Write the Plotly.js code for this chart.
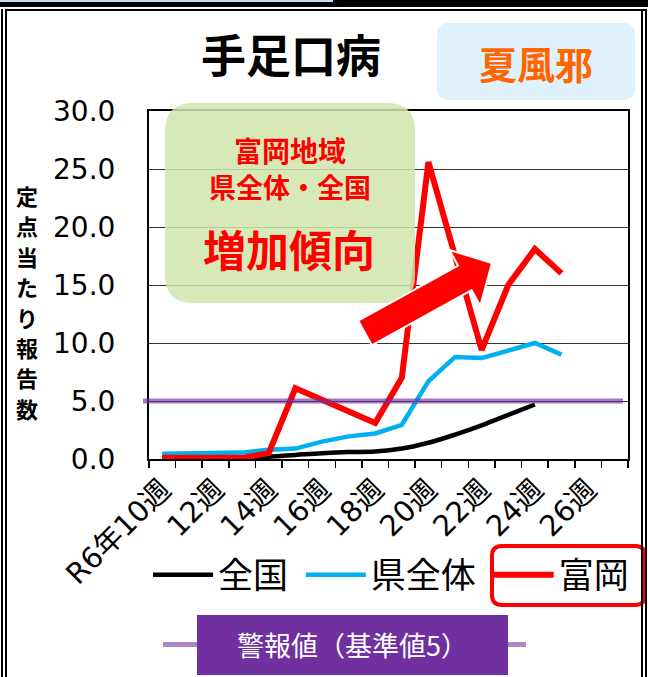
<!DOCTYPE html>
<html><head><meta charset="utf-8">
<script src="https://cdn.plot.ly/plotly-3.0.1.min.js"></script>
<style>html,body{margin:0;padding:0;background:#fff}#chart{width:648px;height:677px}</style>
</head><body><div id="chart"></div>
<script>
// ---- data ----
const categories = ['R6年10週','11週','12週','13週','14週','15週','16週','17週','18週','19週','20週','21週','22週','23週','24週','25週','26週','27週'];
const tickText   = ['R6年10週','','12週','','14週','','16週','','18週','','20週','','22週','','24週','','26週',''];
const nationalWeeks = ['R6年10週','11週','12週','13週','14週','15週','16週','17週','18週','19週','20週','21週','22週','23週','24週'];
const national   = [0.1,0.1,0.1,0.15,0.2,0.35,0.5,0.6,0.65,0.9,1.4,2.1,2.9,3.8,4.7];
const localWeeks = ['R6年10週','11週','12週','13週','14週','15週','16週','17週','18週','19週','20週','21週','22週','23週','24週','25週'];
const prefecture = [0.45,0.5,0.5,0.55,0.8,0.9,1.5,1.95,2.2,2.95,6.7,8.8,8.7,9.3,10.0,9.0];
const tomioka    = [0.1,0.1,0.1,0.1,0.5,6.1,5.1,4.1,3.1,7.0,25.6,17.5,9.4,15.0,18.1,16.0];
const seriesNames = ['全国','県全体','富岡'];
const alertLevel = 5;
const yTitle = '定点当たり報告数';

// ---- geometry helpers (pixel -> paper) ----
const W=648, H=677, L=149, R=20, T=111, B=218;
const PW=W-L-R, PH=H-T-B;
const px = x => (x-L)/PW;
const py = y => (T+PH-y)/PH;
const FONT = '"Noto Sans CJK JP", "Noto Sans", sans-serif';
const NUMFONT = '"DejaVu Sans", "Noto Sans CJK JP", sans-serif';
const NBSP = '\u00A0';

function rr(x0,y0,x1,y1,r){
  return `M${px(x0+r)},${py(y0)} L${px(x1-r)},${py(y0)} Q${px(x1)},${py(y0)} ${px(x1)},${py(y0+r)} `+
         `L${px(x1)},${py(y1-r)} Q${px(x1)},${py(y1)} ${px(x1-r)},${py(y1)} `+
         `L${px(x0+r)},${py(y1)} Q${px(x0)},${py(y1)} ${px(x0)},${py(y1-r)} `+
         `L${px(x0)},${py(y0+r)} Q${px(x0)},${py(y0)} ${px(x0+r)},${py(y0)} Z`;
}
function rect(x0,y0,x1,y1,fill,layer){
  return {type:'rect',xref:'paper',yref:'paper',x0:px(x0),x1:px(x1),y0:py(y0),y1:py(y1),
          fillcolor:fill,line:{width:0},layer:layer||'above'};
}
function arrowPath(tx,ty,hx,hy,sw,hw,hl){
  const dx=hx-tx, dy=hy-ty, len=Math.hypot(dx,dy);
  const ux=dx/len, uy=dy/len, nx=-uy, ny=ux;
  const bx=hx-ux*hl, by=hy-uy*hl;
  const pts=[[tx+nx*sw,ty+ny*sw],[bx+nx*sw,by+ny*sw],[bx+nx*hw,by+ny*hw],[hx,hy],
             [bx-nx*hw,by-ny*hw],[bx-nx*sw,by-ny*sw],[tx-nx*sw,ty-ny*sw]];
  return 'M'+pts.map(p=>px(p[0])+','+py(p[1])).join(' L')+' Z';
}
function label(text,x,y,size,color,weight){
  return {text:text,xref:'paper',yref:'paper',x:px(x),y:py(y),xanchor:'center',yanchor:'middle',
          showarrow:false,font:{family:FONT,size:size,color:color,weight:weight||400}};
}

const traces = [
  {x:nationalWeeks,y:national,name:seriesNames[0]+NBSP,type:'scatter',mode:'lines',
   line:{color:'#000000',width:4.5,shape:'spline'}},
  {x:localWeeks,y:prefecture,name:seriesNames[1]+NBSP,type:'scatter',mode:'lines',
   line:{color:'#00B0F0',width:4.5}},
  {x:localWeeks,y:tomioka,name:seriesNames[2],type:'scatter',mode:'lines',
   line:{color:'#FF0000',width:6}}
];

const shapes = [
  {type:'line',xref:'paper',yref:'y',x0:px(143),x1:px(623),y0:alertLevel,y1:alertLevel,
   line:{color:'rgba(112,48,160,0.65)',width:5},layer:'above'},
  {type:'path',xref:'paper',yref:'paper',path:rr(165,103,415,303,28),
   fillcolor:'rgba(208,229,171,0.85)',line:{width:0},layer:'above'},
  {type:'path',xref:'paper',yref:'paper',path:arrowPath(365,333,492,263,14,32,31),
   fillcolor:'#FF0000',line:{color:'#FFFFFF',width:2},layer:'above'},
  {type:'path',xref:'paper',yref:'paper',path:rr(437,23,635,100,12),
   fillcolor:'#DEF1FC',line:{width:0},layer:'above'},
  {type:'path',xref:'paper',yref:'paper',path:rr(492,546,645,605,10),
   fillcolor:'rgba(0,0,0,0)',line:{color:'#FF0000',width:4},layer:'above'},
  {type:'line',xref:'paper',yref:'paper',x0:px(163),x1:px(197),y0:py(644.5),y1:py(644.5),
   line:{color:'#AD86CB',width:5},layer:'above'},
  {type:'line',xref:'paper',yref:'paper',x0:px(508),x1:px(526),y0:py(644.5),y1:py(644.5),
   line:{color:'#AD86CB',width:5},layer:'above'},
  rect(197,615,508,675,'#7030A0'),
  rect(0,0,648,7,'#000000'),
  rect(0,0,333,2,'#BDE3F5'),
  rect(5,9,647,11,'#000000'),
  rect(1,9,3,677,'#000000'),
  rect(5,9,7,677,'#000000'),
  rect(641,9,643,677,'#000000'),
  rect(645,9,647,677,'#000000')
];

const annotations = [
  label('夏風邪',536,62,38,'#FF6600',700),
  label('富岡地域',290,150,28,'#FF0000',700),
  label('県全体・全国',290,186,27,'#FF0000',700),
  label('増加傾向',289,248,43,'#FF0000',700),
  label('警報値（基準値5）',352,644,27,'#FFFFFF',400)
];
Array.from(yTitle).forEach((ch,k)=>{
  annotations.push(label(ch,27,195+k*30.4,22,'#000000',700));
});

const layout = {
  width:W,height:H,margin:{l:L,r:R,t:T,b:B,pad:0},
  paper_bgcolor:'#FFFFFF',plot_bgcolor:'#FFFFFF',
  font:{family:FONT,color:'#000000'},
  title:{text:'手足口病',xref:'container',yref:'container',x:291/W,y:1-57/H,
         xanchor:'center',yanchor:'middle',font:{family:FONT,size:45,weight:700,color:'#000000'}},
  xaxis:{type:'category',categoryorder:'array',categoryarray:categories,range:[-0.5,17.5],
         tickvals:categories,ticktext:tickText,tickangle:-45,ticks:'outside',tickson:'boundaries',
         ticklen:7,tickwidth:1.5,tickcolor:'#000',showline:true,linecolor:'#000',linewidth:2,mirror:true,
         showgrid:false,zeroline:false,tickfont:{family:NUMFONT,size:29,color:'#000'}},
  yaxis:{range:[0,30],dtick:5,tick0:0,tickformat:'.1f',showgrid:true,gridcolor:'#333',gridwidth:1,
         showline:true,linecolor:'#000',linewidth:2,mirror:true,ticks:'',zeroline:false,
         ticklabelstandoff:26,tickfont:{family:NUMFONT,size:28,color:'#000'}},
  showlegend:true,
  legend:{orientation:'h',x:px(148),xanchor:'left',y:py(575),yanchor:'middle',
          font:{family:FONT,size:35,color:'#000'},bgcolor:'rgba(0,0,0,0)',itemwidth:60,
          traceorder:'normal'},
  shapes:shapes,annotations:annotations
};

Plotly.newPlot('chart',traces,layout,{staticPlot:true,displayModeBar:false});
</script></body></html>
